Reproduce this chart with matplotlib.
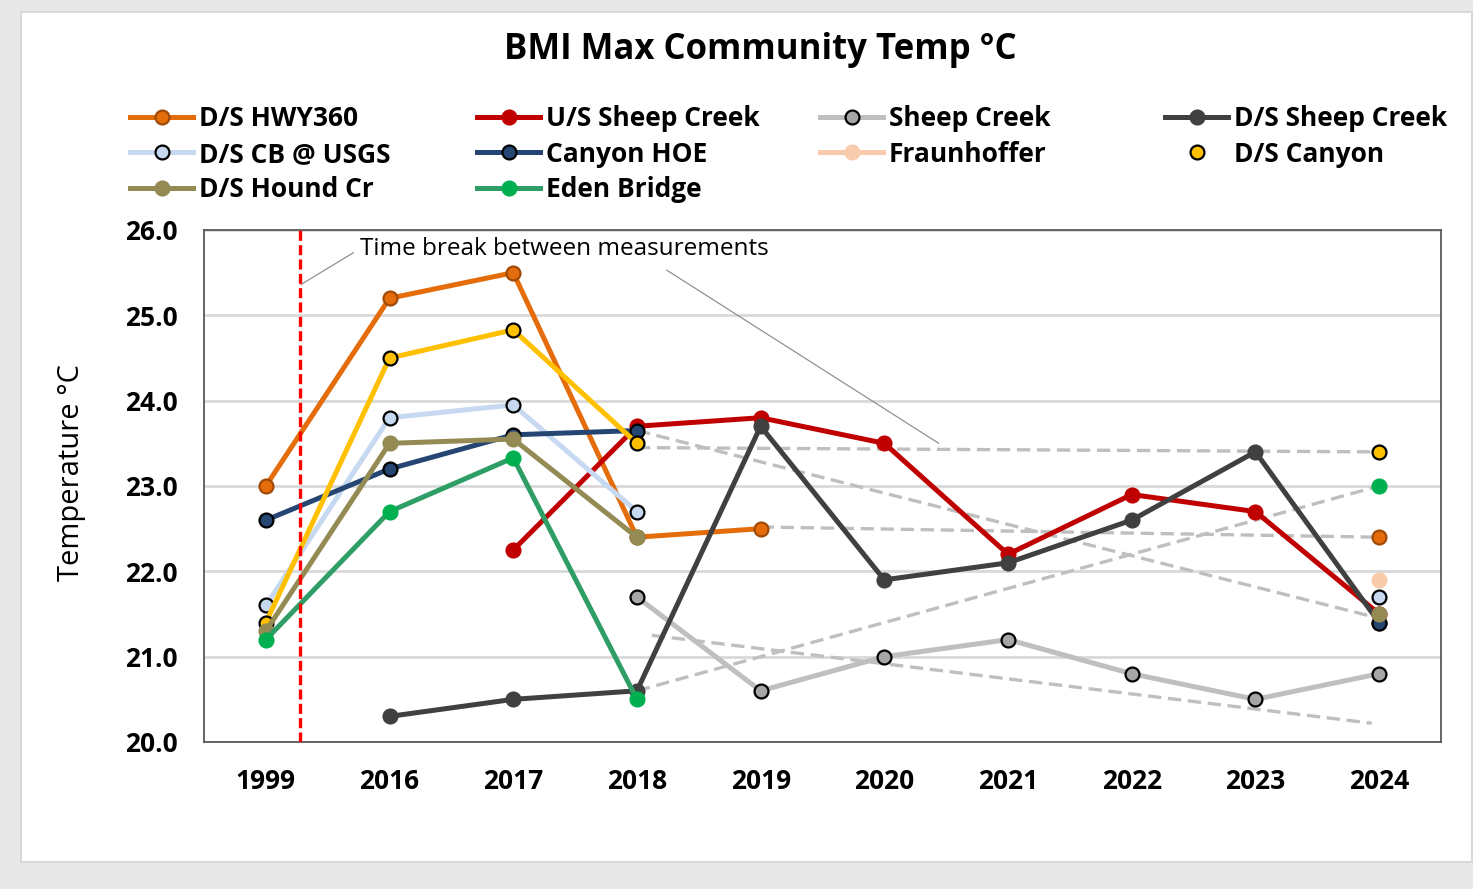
import numpy as np
import matplotlib.pyplot as plt
from matplotlib.lines import Line2D
from matplotlib.patches import Rectangle

plt.rcParams['font.family'] = ['Open Sans', 'DejaVu Sans']

nan = np.nan
years = ['1999', '2016', '2017', '2018', '2019', '2020', '2021', '2022', '2023', '2024']

hwy360 = [23.0, 25.2, 25.5, 22.4, 22.5, nan, nan, nan, nan, 22.4]
us_sheep = [nan, nan, 22.25, 23.7, 23.8, 23.5, 22.2, 22.9, 22.7, 21.5]
sheep = [nan, nan, nan, 21.7, 20.6, 21.0, 21.2, 20.8, 20.5, 20.8]
ds_sheep = [nan, 20.3, 20.5, 20.6, 23.7, 21.9, 22.1, 22.6, 23.4, 21.4]
cb_usgs = [21.6, 23.8, 23.95, 22.7, nan, nan, nan, nan, nan, 21.7]
canyon_hoe = [22.6, 23.2, 23.6, 23.65, nan, nan, nan, nan, nan, 21.4]
fraunhoffer = [nan, nan, nan, nan, nan, nan, nan, nan, nan, 21.9]
ds_canyon = [21.4, 24.5, 24.83, 23.5, nan, nan, nan, nan, nan, 23.4]
hound = [21.3, 23.5, 23.55, 22.4, nan, nan, nan, nan, nan, 21.5]
eden = [21.2, 22.7, 23.33, 20.5, nan, nan, nan, nan, nan, 23.0]

# gray dashed connectors / trend lines (start index, start value, end index, end value)
trend_x0 = [3, 3, 4, 3, 3.12]
trend_y0 = [23.45, 23.65, 22.52, 20.6, 21.25]
trend_x1 = [9, 9, 9, 9, 8.94]
trend_y1 = [23.4, 21.45, 22.4, 23.0, 20.22]

time_break = 0.275

# name, data, line colour, marker face, marker edge
series = [
    ('D/S HWY360', hwy360, '#E46C0A', '#E46C0A', '#A04A06'),
    ('U/S Sheep Creek', us_sheep, '#C00000', '#C00000', '#C00000'),
    ('Sheep Creek', sheep, '#BFBFBF', '#A6A6A6', '#000000'),
    ('D/S Sheep Creek', ds_sheep, '#404040', '#404040', '#404040'),
    ('D/S CB @ USGS', cb_usgs, '#C6D9F1', '#C6D9F1', '#000000'),
    ('Canyon HOE', canyon_hoe, '#254673', '#254673', '#000000'),
    ('Fraunhoffer', fraunhoffer, '#F8CBAD', '#F8CBAD', '#F8CBAD'),
    ('D/S Canyon', ds_canyon, '#FFC000', '#FFC000', '#000000'),
    ('D/S Hound Cr', hound, '#948A54', '#948A54', '#948A54'),
    ('Eden Bridge', eden, '#2E9E66', '#00B050', '#00B050'),
]

fig = plt.figure(figsize=(14.73, 8.89), dpi=100, facecolor='#E8E8E8')
fig.patches.append(Rectangle((21 / 1473, 27 / 889), 1451 / 1473, 850 / 889,
                             transform=fig.transFigure, facecolor='white',
                             edgecolor='#D9D9D9', lw=1.5, zorder=-5))
ax = fig.add_axes([204 / 1473, 1 - 742 / 889, 1237 / 1473, 512 / 889])

x = np.arange(len(years))

for i in range(len(trend_x0)):
    ax.plot([trend_x0[i], trend_x1[i]], [trend_y0[i], trend_y1[i]], color='#BFBFBF',
            lw=2.4, dashes=(4, 2), zorder=2)

handles = {}
for name, data, lc, mf, me in series:
    ax.plot(x, data, color=lc, lw=3.6, marker='o', ms=10, mfc=mf, mec=me, mew=1.6,
            zorder=3, solid_capstyle='round')
    if name == 'D/S Canyon':
        handles[name] = Line2D([], [], ls='none', marker='o', ms=10, mfc=mf, mec=me, mew=1.6)
    else:
        handles[name] = Line2D([], [], color=lc, lw=3.6, marker='o', ms=10, mfc=mf, mec=me, mew=1.6)

ax.axvline(time_break, color='#FF0000', lw=2.4, dashes=(3, 1.3), zorder=4)

ax.set_xlim(-0.5, len(years) - 0.5)
ax.set_ylim(20, 26)
ax.set_yticks([20, 21, 22, 23, 24, 25, 26])
ax.set_yticklabels(['%.1f' % v for v in [20, 21, 22, 23, 24, 25, 26]])
ax.set_xticks(x)
ax.set_xticklabels(years)
ax.tick_params(length=0, labelsize=19)
ax.tick_params(axis='x', pad=19)
ax.tick_params(axis='y', pad=19)
for lab in ax.get_xticklabels() + ax.get_yticklabels():
    lab.set_fontweight('bold')
ax.grid(axis='y', color='#D9D9D9', lw=2)
ax.set_axisbelow(True)
for s in ax.spines.values():
    s.set_color('#595959')
    s.set_linewidth(1.3)

ax.set_ylabel('Temperature °C', fontsize=21)
ax.yaxis.set_label_coords(-0.0954, 0.527)

ax.annotate('Time break between measurements', xy=(0.283, 25.36), xytext=(0.76, 25.78),
            fontsize=17.5, va='center', ha='left',
            arrowprops=dict(arrowstyle='-', color='#909090', lw=0.9, relpos=(0, 0.5),
                            shrinkA=3, shrinkB=0))
ax.annotate('', xy=(5.44, 23.5), xytext=(3.24, 25.53),
            arrowprops=dict(arrowstyle='-', color='#909090', lw=0.9, shrinkA=0, shrinkB=0))

fig.text(760 / 1473, 1 - 50 / 889, 'BMI Max Community Temp °C', fontsize=25,
         fontweight='bold', ha='center', va='center')

columns = [
    ['D/S HWY360', 'D/S CB @ USGS', 'D/S Hound Cr'],
    ['U/S Sheep Creek', 'Canyon HOE', 'Eden Bridge'],
    ['Sheep Creek', 'Fraunhoffer'],
    ['D/S Sheep Creek', 'D/S Canyon'],
]
col_x = [130, 477, 820, 1165]
for cx, names in zip(col_x, columns):
    leg = fig.legend([handles[n] for n in names], names, loc='upper left',
                     bbox_to_anchor=(cx / 1473, 1 - 105 / 889), frameon=False,
                     borderpad=0, borderaxespad=0, handlelength=2.4, handletextpad=0.2,
                     labelspacing=0.33, prop={'size': 19, 'weight': 'bold'})

fig.savefig('out.png', dpi=100, facecolor=fig.get_facecolor())
